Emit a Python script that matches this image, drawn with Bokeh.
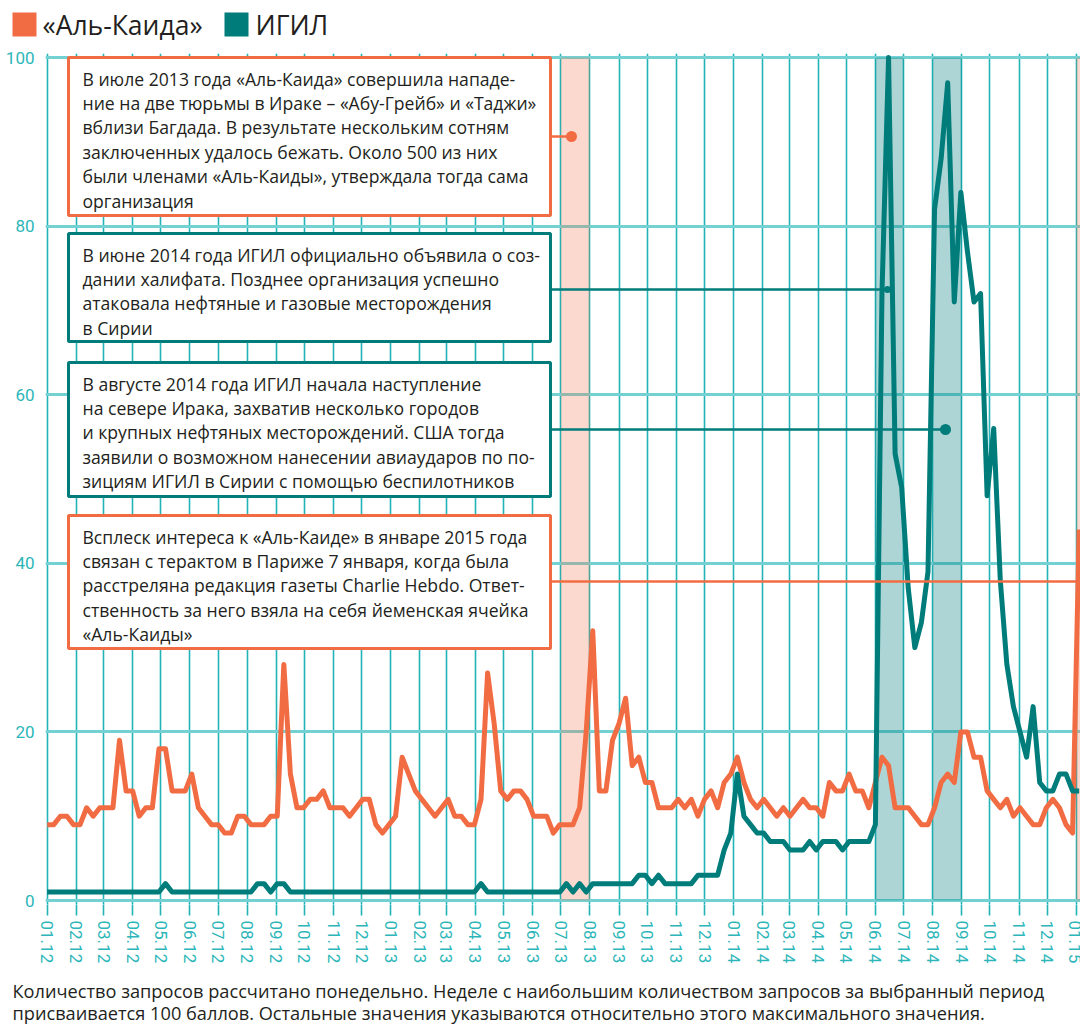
from datetime import datetime, timedelta
import pandas as pd
from bokeh.plotting import figure
from bokeh.layouts import column
from bokeh.models import (ColumnDataSource, Range1d, MonthsTicker, DatetimeTickFormatter,
                          BoxAnnotation, Label, FixedTicker)
from bokeh.embed import file_html
from bokeh.resources import INLINE

# ---------------- data ----------------
first_week = "2012-01-01"
alqaeda = [9, 9, 10, 10, 9, 9, 11, 10, 11, 11,
           11, 19, 13, 13, 10, 11, 11, 18, 18, 13,
           13, 13, 15, 11, 10, 9, 9, 8, 8, 10,
           10, 9, 9, 9, 10, 10, 28, 15, 11, 11,
           12, 12, 13, 11, 11, 11, 10, 11, 12, 12,
           9, 8, 9, 10, 17, 15, 13, 12, 11, 10,
           11, 12, 10, 10, 9, 9, 12, 27, 21, 13,
           12, 13, 13, 12, 10, 10, 10, 8, 9, 9,
           9, 11, 20, 32, 13, 13, 19, 21, 24, 16,
           17, 14, 14, 11, 11, 11, 12, 11, 12, 10,
           12, 13, 11, 14, 15, 17, 14, 12, 11, 12,
           11, 10, 11, 10, 11, 12, 11, 11, 10, 14,
           13, 13, 15, 13, 13, 11, 14, 17, 16, 11,
           11, 11, 10, 9, 9, 11, 14, 15, 14, 20,
           20, 17, 17, 13, 12, 11, 12, 10, 11, 10,
           9, 9, 11, 12, 11, 9, 8, 44]
isis = [1, 1, 1, 1, 1, 1, 1, 1, 1, 1,
        1, 1, 1, 1, 1, 1, 1, 1, 2, 1,
        1, 1, 1, 1, 1, 1, 1, 1, 1, 1,
        1, 1, 2, 2, 1, 2, 2, 1, 1, 1,
        1, 1, 1, 1, 1, 1, 1, 1, 1, 1,
        1, 1, 1, 1, 1, 1, 1, 1, 1, 1,
        1, 1, 1, 1, 1, 1, 2, 1, 1, 1,
        1, 1, 1, 1, 1, 1, 1, 1, 1, 2,
        1, 2, 1, 2, 2, 2, 2, 2, 2, 2,
        3, 3, 2, 3, 2, 2, 2, 2, 2, 3,
        3, 3, 3, 6, 8, 15, 10, 9, 8, 8,
        7, 7, 7, 6, 6, 6, 7, 6, 7, 7,
        7, 6, 7, 7, 7, 7, 9, 72, 100, 53,
        49, 37, 30, 33, 39, 82, 88, 97, 71, 84,
        77, 71, 72, 48, 56, 38, 28, 23, 20, 17,
        23, 14, 13, 13, 15, 15, 13, 13]
series_names = ["«Аль-Каида»", "ИГИЛ"]
y_ticks = [0, 20, 40, 60, 80, 100]
band_months = ["2013-07-01", "2014-06-01", "2014-08-01", "2015-01-01"]
band_next = ["2013-08-01", "2014-07-01", "2014-09-01", "2015-02-01"]
band_series = [0, 1, 1, 0]

notes = [
    ["В июле 2013 года «Аль-Каида» совершила нападе-",
     "ние на две тюрьмы в Ираке – «Абу-Грейб» и «Таджи»",
     "вблизи Багдада. В результате нескольким сотням",
     "заключенных удалось бежать. Около 500 из них",
     "были членами «Аль-Каиды», утверждала тогда сама",
     "организация"],
    ["В июне 2014 года ИГИЛ официально объявила о соз-",
     "дании халифата. Позднее организация успешно",
     "атаковала нефтяные и газовые месторождения",
     "в Сирии"],
    ["В августе 2014 года ИГИЛ начала наступление",
     "на севере Ирака, захватив несколько городов",
     "и крупных нефтяных месторождений. США тогда",
     "заявили о возможном нанесении авиаударов по по-",
     "зициям ИГИЛ в Сирии с помощью беспилотников"],
    ["Всплеск интереса к «Аль-Каиде» в январе 2015 года",
     "связан с терактом в Париже 7 января, когда была",
     "расстреляна редакция газеты Charlie Hebdo. Ответ-",
     "ственность за него взяла на себя йеменская ячейка",
     "«Аль-Каиды»"],
]
note_series = [0, 1, 1, 0]
caption = ["Количество запросов рассчитано понедельно. Неделе с наибольшим количеством запросов за выбранный период",
           "присваивается 100 баллов. Остальные значения указываются относительно этого максимального значения."]

# ---------------- style / layout ----------------
ORANGE = "#f26c43"
TEAL = "#007c7b"
COLORS = [ORANGE, TEAL]
BAND_ALPHA = [0.26, 0.32]
VGRID = "#22b3b6"
HGRID = "#74d1d3"
LABEL = "#2db6b9"
INK = "#231f20"
FONT = "Open Sans"
TICK_FONT = "Roboto"

PAGE_W = 1080
TOP_H, MAIN_H, CAP_H = 42, 936, 46          # stacked figure heights (page px)
MAIN_Y0 = TOP_H                              # page y where main figure starts

# page-pixel geometry helpers for the main chart (layout only)
EPOCH = datetime(1970, 1, 1)
X0_PX, PX_PER_DAY = 46.7, 0.939
Y0_PX, PX_PER_UNIT = 900.0, 8.43


def px_to_ms(px):
    d = datetime(2012, 1, 1) + timedelta(days=(px - X0_PX) / PX_PER_DAY)
    return (d - EPOCH).total_seconds() * 1000.0


def py_to_val(py):
    return (Y0_PX - py) / PX_PER_UNIT


frame_left, frame_right, frame_top, frame_bottom = 45, 1080, 53, 904


def blank_fig(h):
    f = figure(width=PAGE_W, height=h, x_range=Range1d(0, PAGE_W), y_range=Range1d(h, 0),
               output_backend="svg", toolbar_location=None,
               x_axis_location=None, y_axis_location=None,
               min_border=0, min_border_left=0, min_border_right=0,
               min_border_top=0, min_border_bottom=0)
    f.grid.visible = False
    f.outline_line_color = None
    f.background_fill_color = "white"
    f.border_fill_color = "white"
    return f


# ---------- legend strip ----------
top = blank_fig(TOP_H)
leg_sq_x = [12, 224]
leg_txt_x = [42, 255]
for k in range(2):
    top.add_layout(BoxAnnotation(left=leg_sq_x[k], right=leg_sq_x[k] + 24, top=12, bottom=36,
                                 fill_color=COLORS[k], fill_alpha=1.0, line_color=None))
    top.add_layout(Label(x=leg_txt_x[k], y=24, text=series_names[k],
                         text_font=FONT, text_font_size="26.5px", text_color=INK,
                         text_baseline="middle", text_align="left"))

# ---------- main chart ----------
p = figure(width=PAGE_W, height=MAIN_H, x_axis_type="datetime",
           x_range=Range1d(px_to_ms(frame_left), px_to_ms(frame_right)),
           y_range=Range1d(py_to_val(frame_bottom), py_to_val(frame_top)),
           output_backend="svg", toolbar_location=None,
           min_border_left=frame_left, min_border_right=PAGE_W - frame_right,
           min_border_top=frame_top - MAIN_Y0,
           min_border_bottom=MAIN_H - (frame_bottom - MAIN_Y0))
p.outline_line_color = None
p.background_fill_color = "white"
p.border_fill_color = "white"

p.xaxis.ticker = MonthsTicker(months=list(range(12)))
fmt = "%m.%y"
p.xaxis.formatter = DatetimeTickFormatter(days=fmt, months=fmt, years=fmt, hours=fmt,
                                          hourmin=fmt, minutes=fmt, minsec=fmt,
                                          seconds=fmt, milliseconds=fmt, microseconds=fmt,
                                          strip_leading_zeros=False, boundary_scaling=False)
p.xaxis.major_label_orientation = "vertical"
p.xaxis.axis_line_color = None
p.xaxis.major_tick_line_color = VGRID
p.xaxis.major_tick_line_width = 1.6
p.xaxis.major_tick_in = 0
p.xaxis.major_tick_out = 11
p.xaxis.minor_tick_line_color = None
p.xaxis.major_label_standoff = 5
p.xaxis.major_label_text_color = LABEL
p.xaxis.major_label_text_font = TICK_FONT
p.xaxis.major_label_text_font_size = "17px"

p.yaxis.ticker = FixedTicker(ticks=y_ticks)
p.yaxis.axis_line_color = None
p.yaxis.major_tick_line_color = None
p.yaxis.minor_tick_line_color = None
p.yaxis.major_label_standoff = 5
p.yaxis.major_label_text_color = LABEL
p.yaxis.major_label_text_font = TICK_FONT
p.yaxis.major_label_text_font_size = "17px"

p.xgrid.grid_line_color = VGRID
p.xgrid.grid_line_width = 1.6
p.ygrid.grid_line_color = HGRID
p.ygrid.grid_line_width = 3

# highlighted months
bsrc = ColumnDataSource(dict(
    left=pd.to_datetime(band_months), right=pd.to_datetime(band_next),
    color=[COLORS[s] for s in band_series], alpha=[BAND_ALPHA[s] for s in band_series]))
p.quad(left="left", right="right", bottom=y_ticks[0], top=y_ticks[-1], source=bsrc,
       fill_color="color", fill_alpha="alpha", line_color=None)

# series
src = ColumnDataSource(dict(date=pd.date_range(first_week, periods=len(alqaeda), freq="7D"),
                            aq=alqaeda, isis=isis))
p.line("date", "aq", source=src, line_color=ORANGE, line_width=5, line_join="round")
p.line("date", "isis", source=src, line_color=TEAL, line_width=5, line_join="round")

# annotation boxes (page pixel layout)
box_left, box_right, text_x = 68, 550, 82
box_tops = [57, 233, 362, 515]
box_bottoms = [215, 341, 496, 648]
conn_y = [136, 289, 429, 581]
conn_end = [571, 887, 945, 1080]
dot_size = [11, 7, 11, 0]
LINE_GAP = 24.4

for i, lines in enumerate(notes):
    c = COLORS[note_series[i]]
    p.segment(x0=[px_to_ms(box_right)], y0=[py_to_val(conn_y[i])],
              x1=[px_to_ms(conn_end[i])], y1=[py_to_val(conn_y[i])],
              line_color=c, line_width=2.5)
    if dot_size[i]:
        p.scatter([px_to_ms(conn_end[i])], [py_to_val(conn_y[i])], size=dot_size[i],
                  fill_color=c, line_color=None)
    p.add_layout(BoxAnnotation(left=px_to_ms(box_left), right=px_to_ms(box_right),
                               top=py_to_val(box_tops[i]), bottom=py_to_val(box_bottoms[i]),
                               fill_color="white", fill_alpha=1.0,
                               line_color=c, line_width=3, line_alpha=1.0))
    for j, t in enumerate(lines):
        p.add_layout(Label(x=px_to_ms(text_x), y=py_to_val(box_tops[i] + 21 + j * LINE_GAP),
                           text=t, text_font=FONT, text_font_size="17.6px", text_color=INK,
                           text_baseline="middle", text_align="left"))

# ---------- caption strip ----------
cap = blank_fig(CAP_H)
cap_y = [12, 34]
for j, t in enumerate(caption):
    cap.add_layout(Label(x=12, y=cap_y[j], text=t,
                         text_font=FONT, text_font_size="18.2px", text_color=INK,
                         text_baseline="middle", text_align="left"))

# wrap the strips in their own containers so their frames are not aligned to the chart's
layout = column(column(top, spacing=0), p, column(cap, spacing=0), spacing=0)
open("out.html", "w").write(file_html(layout, INLINE))
